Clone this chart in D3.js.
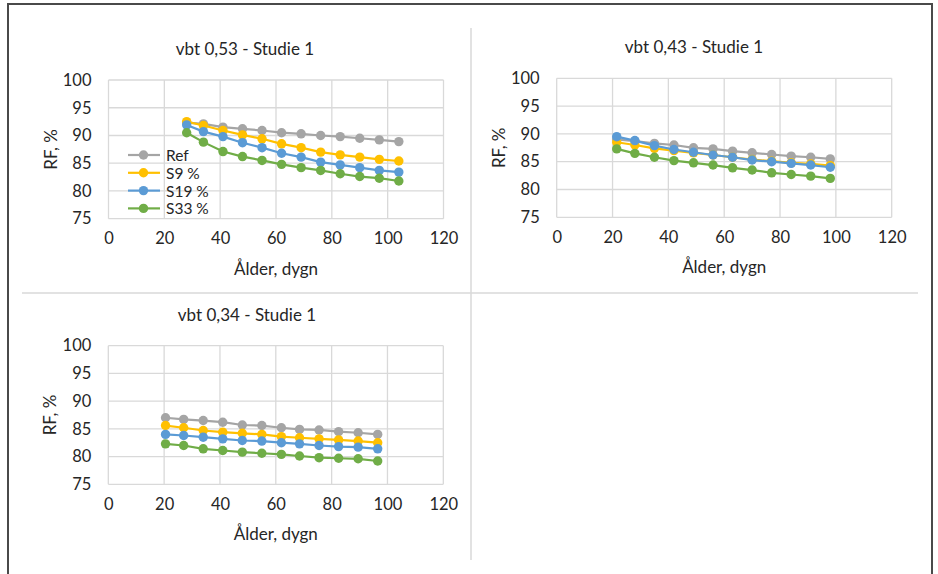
<!DOCTYPE html>
<html>
<head>
<meta charset="utf-8">
<script src="https://cdn.jsdelivr.net/npm/d3@7/dist/d3.min.js"></script>
<style>
  body { margin: 0; background: #fff; }
  svg { display: block; font-family: "Lato", "Open Sans", sans-serif; }
</style>
</head>
<body>
<svg id="chart" width="938" height="574"></svg>
<script>
// series names and colours (Excel defaults)
var seriesNames = ['Ref', 'S9 %', 'S19 %', 'S33 %'];
var seriesColors = ['#a5a5a5', '#ffc000', '#5b9bd5', '#70ad47'];

var xTicks = [0, 20, 40, 60, 80, 100, 120];
var yTicks = [75, 80, 85, 90, 95, 100];

// vbt 0,53
var ageA = [28, 34, 41, 48, 55, 62, 69, 76, 83, 90, 97, 104];
var refA = [92.3, 92.1, 91.5, 91.2, 90.9, 90.5, 90.3, 90.0, 89.8, 89.5, 89.2, 88.9];
var s9A  = [92.5, 91.8, 90.9, 90.1, 89.4, 88.5, 87.8, 87.0, 86.5, 86.1, 85.7, 85.4];
var s19A = [91.9, 90.7, 89.8, 88.7, 87.8, 86.8, 86.1, 85.2, 84.7, 84.2, 83.7, 83.4];
var s33A = [90.5, 88.8, 87.1, 86.2, 85.5, 84.8, 84.2, 83.7, 83.1, 82.6, 82.3, 81.8];

// vbt 0,43
var ageB = [21.5, 28, 35, 42, 49, 56, 63, 70, 77, 84, 91, 98];
var refB = [89.0, 88.7, 88.3, 88.0, 87.5, 87.3, 86.9, 86.6, 86.3, 86.0, 85.8, 85.5];
var s9B  = [88.5, 88.0, 87.4, 87.0, 86.6, 86.2, 85.8, 85.4, 85.1, 84.8, 84.6, 84.3];
var s19B = [89.5, 88.8, 87.9, 87.2, 86.7, 86.2, 85.8, 85.3, 85.0, 84.7, 84.4, 84.0];
var s33B = [87.3, 86.5, 85.8, 85.2, 84.8, 84.4, 83.9, 83.5, 83.0, 82.7, 82.4, 82.0];

// vbt 0,34
var ageC = [20.5, 27, 34, 41, 48, 55, 62, 68.5, 75.5, 82.5, 89.5, 96.5];
var refC = [87.0, 86.7, 86.5, 86.2, 85.7, 85.6, 85.2, 84.9, 84.8, 84.5, 84.3, 84.0];
var s9C  = [85.6, 85.2, 84.7, 84.4, 84.2, 84.0, 83.6, 83.4, 83.2, 83.0, 82.8, 82.5];
var s19C = [84.0, 83.8, 83.5, 83.2, 82.9, 82.8, 82.5, 82.3, 82.0, 81.8, 81.7, 81.4];
var s33C = [82.3, 82.0, 81.4, 81.1, 80.8, 80.6, 80.4, 80.1, 79.8, 79.7, 79.6, 79.2];

var svg = d3.select('#chart');

// outer frame and panel dividers
svg.append('path')
    .attr('d', 'M8,578V4H932V578')
    .attr('fill', 'none')
    .attr('stroke', '#4a4a4a')
    .attr('stroke-width', 2);
svg.append('line').attr('x1', 22).attr('x2', 918).attr('y1', 293).attr('y2', 293)
    .attr('stroke', '#d9d9d9').attr('stroke-width', 1.5);
svg.append('line').attr('x1', 471).attr('x2', 471).attr('y1', 28).attr('y2', 560)
    .attr('stroke', '#d9d9d9').attr('stroke-width', 1.5);

var panels = [
    {title: 'vbt 0,53 - Studie 1', age: ageA, vals: [refA, s9A, s19A, s33A],
     left: 108.5, right: 443.5, top: 80, bottom: 218.7, titleX: 245, titleY: 55, legend: true},
    {title: 'vbt 0,43 - Studie 1', age: ageB, vals: [refB, s9B, s19B, s33B],
     left: 556.7, right: 891.7, top: 78.3, bottom: 217.3, titleX: 694, titleY: 53, legend: false},
    {title: 'vbt 0,34 - Studie 1', age: ageC, vals: [refC, s9C, s19C, s33C],
     left: 108.3, right: 443.3, top: 345.7, bottom: 484.3, titleX: 247, titleY: 321, legend: false}
];

panels.forEach(function (p) {
    var g = svg.append('g');
    var x = d3.scaleLinear().domain([0, 120]).range([p.left, p.right]);
    var y = d3.scaleLinear().domain([75, 100]).range([p.bottom, p.top]);

    // gridlines
    g.selectAll('.hgrid').data(yTicks).enter().append('line')
        .attr('x1', p.left).attr('x2', p.right)
        .attr('y1', function (d) { return y(d); }).attr('y2', function (d) { return y(d); })
        .attr('stroke', '#d9d9d9').attr('stroke-width', 1.3);
    g.selectAll('.vgrid').data(xTicks).enter().append('line')
        .attr('y1', p.top).attr('y2', p.bottom)
        .attr('x1', function (d) { return x(d); }).attr('x2', function (d) { return x(d); })
        .attr('stroke', '#d9d9d9').attr('stroke-width', 1.3);

    // axes (labels only, Excel style)
    var yAxis = g.append('g').attr('transform', 'translate(' + p.left + ',0)')
        .call(d3.axisLeft(y).tickValues(yTicks).tickSize(0).tickPadding(17));
    var xAxis = g.append('g').attr('transform', 'translate(0,' + p.bottom + ')')
        .call(d3.axisBottom(x).tickValues(xTicks).tickSize(0).tickPadding(14));
    [yAxis, xAxis].forEach(function (a) {
        a.select('.domain').remove();
        a.selectAll('text').attr('fill', '#262626')
            .style('font-size', '16.5px').style('font-family', 'Lato, sans-serif');
    });

    // titles
    g.append('text').attr('x', p.titleX).attr('y', p.titleY)
        .attr('text-anchor', 'middle').attr('fill', '#262626')
        .style('font-size', '17px').text(p.title);
    g.append('text').attr('x', (p.left + p.right) / 2).attr('y', p.bottom + 56)
        .attr('text-anchor', 'middle').attr('fill', '#262626')
        .style('font-size', '17px').text('Ålder, dygn');
    g.append('text')
        .attr('transform', 'translate(' + (p.left - 52) + ',' + ((p.top + p.bottom) / 2) + ') rotate(-90)')
        .attr('text-anchor', 'middle').attr('fill', '#262626')
        .style('font-size', '17px').text('RF, %');

    // series
    var line = d3.line()
        .x(function (d) { return x(d[0]); })
        .y(function (d) { return y(d[1]); });
    p.vals.forEach(function (vals, i) {
        var pts = p.age.map(function (a, j) { return [a, vals[j]]; });
        g.append('path').datum(pts).attr('d', line)
            .attr('fill', 'none').attr('stroke', seriesColors[i]).attr('stroke-width', 2.2);
        g.selectAll('.dot' + i).data(pts).enter().append('circle')
            .attr('cx', function (d) { return x(d[0]); })
            .attr('cy', function (d) { return y(d[1]); })
            .attr('r', 4.7)
            .attr('fill', seriesColors[i]);
    });

    // legend inside first panel
    if (p.legend) {
        var lg = g.append('g');
        seriesNames.forEach(function (name, i) {
            var ly = 155 + i * 17.8;
            lg.append('line').attr('x1', 128).attr('x2', 160).attr('y1', ly).attr('y2', ly)
                .attr('stroke', seriesColors[i]).attr('stroke-width', 2.2);
            lg.append('circle').attr('cx', 143.5).attr('cy', ly).attr('r', 4.7)
                .attr('fill', seriesColors[i]);
            lg.append('text').attr('x', 166).attr('y', ly + 6)
                .attr('fill', '#262626').style('font-size', '15.5px').text(name);
        });
    }
});
</script>
</body>
</html>
